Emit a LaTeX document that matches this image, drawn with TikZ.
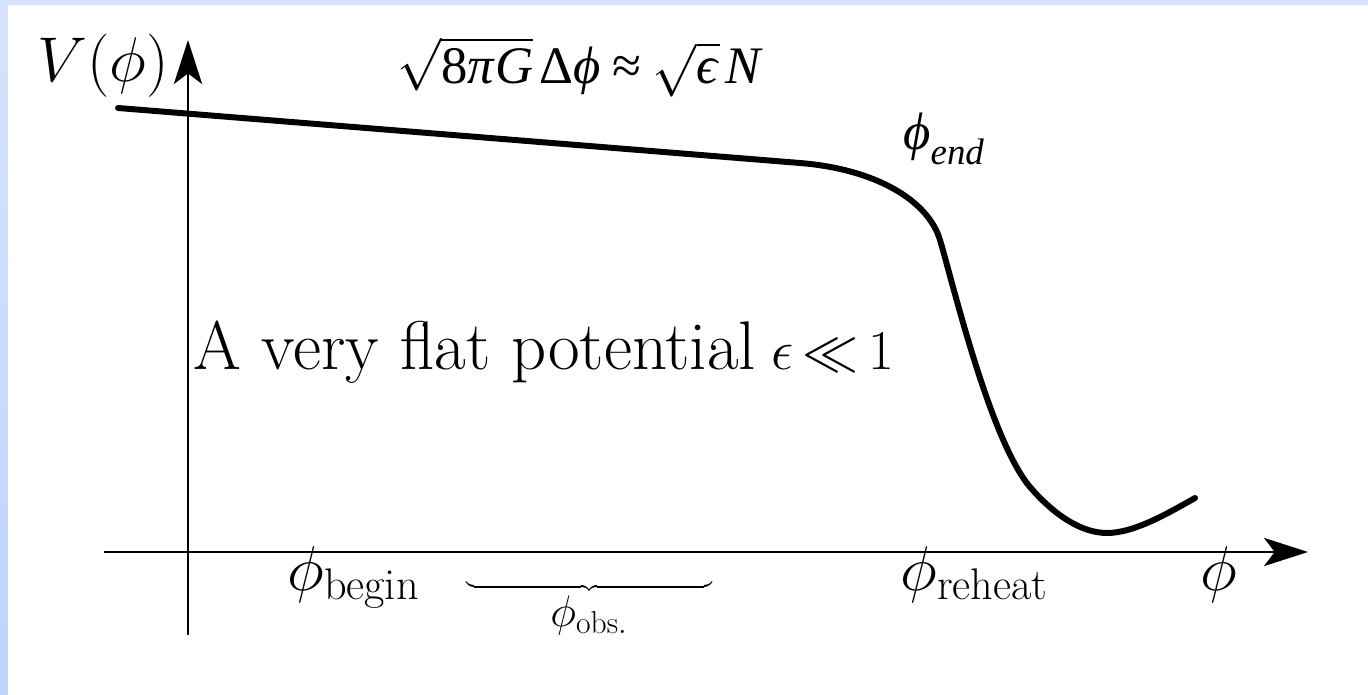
\RequirePackage{fix-cm}
\documentclass[tikz,border=0pt]{standalone}
\usepackage{fontspec}
\newfontfamily\tms{Liberation Serif}
\usetikzlibrary{arrows.meta}
\definecolor{bandtop}{RGB}{214,227,253}
\definecolor{bandbot}{RGB}{191,212,252}
\begin{document}
\begin{tikzpicture}[x=0.02cm,y=-0.02cm,
 lbl/.style={inner sep=0pt, font=\fontsize{36}{43}\selectfont},
 big/.style={inner sep=0pt, font=\fontsize{39.2}{47}\selectfont},
 tlbl/.style={inner sep=0pt, font=\fontsize{30}{36}\selectfont\tms},
 axis/.style={line width=1.7pt, -{Stealth[length=25pt,width=16pt,inset=6pt]}},
 curve/.style={line width=3.4pt, line cap=round}]
\useasboundingbox (0,0) rectangle (1368,695);
\fill[bandtop] (0,0) rectangle (1368,695);
\shade[top color=bandtop, bottom color=bandbot] (0,0) rectangle (8,695);
\fill[white] (8,5) rectangle (1368,695);
% axes
\coordinate (ybot) at (188,635);
\coordinate (ytop) at (188,40);
\coordinate (xl) at (104,552);
\coordinate (xr) at (1308,552);
\draw[axis] (ybot) -- (ytop);
\draw[axis] (xl) -- (xr);
% potential
\coordinate (c0) at (118,108);
\coordinate (c1) at (800,163);
\coordinate (c2) at (940,240);
\coordinate (c3) at (1030,487);
\coordinate (c4) at (1107,533);
\coordinate (c5) at (1195,498);
\draw[curve] (c0) -- (c1) .. controls (875,169) and (928,200) .. (c2)
  .. controls (952,280) and (990,440) .. (c3)
  .. controls (1055,516) and (1082,533) .. (c4)
  .. controls (1135,533) and (1170,512) .. (c5);
% labels
\node[lbl, anchor=base west] (V) at (37,82) {$V(\phi)$};
\node[big, anchor=base west] (flat) at (193,370) {A very flat potential\hspace{0.22em}{\fontsize{32}{38}\selectfont$\epsilon\mskip3mu{\ll}\mskip3mu 1$}};
\node[lbl, anchor=base west] (pb) at (287,590) {$\phi_{\mathrm{begin}}$};
\node[lbl, anchor=base west] (pr) at (900,590) {$\phi_{\mathrm{reheat}}$};
\node[lbl, anchor=base west] (p) at (1200,590) {$\phi$};
\node[lbl, anchor=north] (obs) at (589,580) {$\underbrace{\hspace{140pt}}_{\phi_{\mathrm{obs.}}}$};
\node[tlbl, anchor=base west] (form) at (397,84) {$\sqrt{\hbox{\tms 8\textit{π}\textit{G}}}\mskip2mu\hbox{\tms Δ\textit{ϕ}}\mskip4mu\hbox{\tms ≈}\mskip4mu\sqrt{\hbox{\tms\textit{ϵ}}}\mskip2mu\hbox{\tms\textit{N}}$};
\node[tlbl, anchor=base west] (pend) at (903,150) {\textit{ϕ}\raisebox{-0.28em}{\fontsize{21}{25}\selectfont\textit{end}}};
\end{tikzpicture}
\end{document}
